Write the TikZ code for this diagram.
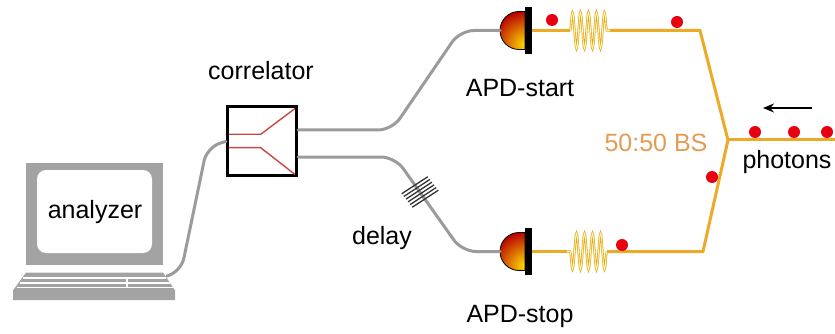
\documentclass[tikz,border=0pt]{standalone}
\usepackage{fontspec}
\setmainfont{Liberation Sans}
\usetikzlibrary{arrows.meta,calc,decorations.pathmorphing}

\definecolor{fibergray}{RGB}{155,155,155}
\definecolor{pcgray}{RGB}{163,163,163}
\definecolor{beamorange}{RGB}{236,170,38}
\definecolor{coilorange}{RGB}{226,164,40}
\definecolor{photonred}{RGB}{232,0,16}
\definecolor{bstext}{RGB}{228,155,82}
\definecolor{waveguide}{RGB}{205,70,70}

\tikzset{
  lbl/.style={inner sep=0pt, font=\fontsize{25}{30}\selectfont},
  fiber/.style={draw=fibergray, line width=3pt, rounded corners=14pt, line cap=round},
  beam/.style={draw=beamorange, line width=3pt, line join=miter},
  coilline/.style={draw=coilorange, line width=0.7pt, double=yellow!35!white,
    double distance=0.9pt, decorate,
    decoration={snake, amplitude=18pt, segment length=8pt}},
  photon/.style={fill=photonred},
  delayline/.style={draw=black!80, line width=1.3pt},
  apd/.pic={
    \draw[line width=0.8pt,
      path picture={\shade[inner color=yellow!75!orange, outer color=red!72!black]
        (0,14) circle (34);}]
      (0,-19) -- (-6,-19) arc[start angle=270, end angle=90, radius=19] -- (0,19) -- cycle;
    \fill[black] (0,-23.5) rectangle (6.5,23.5);
    \coordinate (-in) at (-25,0);
    \coordinate (-out) at (6.5,0);
  }
}

\begin{document}
\begin{tikzpicture}[x=1pt, y=-1pt]
\useasboundingbox (0,0) rectangle (835,334);

% ---------- analyzer: monitor and keyboard ----------
\fill[pcgray] (26,163) rectangle (163,265);
\fill[white, rounded corners=9pt] (37,170) rectangle (152,253);
\node[lbl] (analyzer) at (95,212) {analyzer};
\fill[pcgray] (26,272.5) -- (163,272.5) -- (175,290.5) -- (175,300)
  -- (13,300) -- (13,290.5) -- cycle;
\draw[white, line width=1.4pt] (23,278) -- (166,278)
  (19.5,283) -- (169.5,283) (16.5,287.7) -- (172.5,287.7)
  (127,278) -- (127,287.7);
\coordinate (kb) at (167,276);

% ---------- correlator ----------
\node[draw=black, line width=3pt, minimum width=69pt, minimum height=69pt,
  inner sep=0pt] (corr) at (262,141.4) {};
\node[lbl] (corrlabel) at (261,71) {correlator};
\draw[waveguide, line width=1.4pt]
  (228.5,134.3) -- (260.7,134.3) -- (295,108.5)
  (228.5,147.7) -- (260.7,147.7) -- (295,174.5);
\coordinate (cup) at (298,130);
\coordinate (clow) at (298,157);

% ---------- detectors ----------
\pic (start) at (525,30.5) {apd};
\pic (stop) at (525,251.5) {apd};
\node[lbl] (startlabel) at (520,88) {APD-start};
\node[lbl] (stoplabel) at (520,316) {APD-stop};

% ---------- fibers ----------
\draw[fiber] (kb) -- (181,272) -- (207,147) -- (corr.west);
\draw[fiber] (cup) -- (392,130) -- (460,30.5) -- (start-in);
\draw[fiber] (clow) -- (395,157) -- (462,251.5) -- (stop-in);

% delay loop on the lower fiber
\coordinate (dl) at (420,192);
\foreach \k in {-2.5,-1.5,...,2.5}
  \draw[delayline] ($(dl)+(\k*2.1,\k*2.7)+(-13,8.5)$) -- ($(dl)+(\k*2.1,\k*2.7)+(13,-8.5)$);
\node[lbl] (delaylabel) at (382,238) {delay};

% ---------- beam splitter and optical paths ----------
\coordinate (bs) at (728,140);
\coordinate (in) at (835,140);
\draw[beam] (start-out) -- (570,30.5);
\draw[coilline] (570,30.5) -- (610,30.5);
\draw[beam] (610,30.5) -- (700,30.5) -- (bs) -- (703,251.5) -- (607,251.5);
\draw[coilline] (607,251.5) -- (567,251.5);
\draw[beam] (567,251.5) -- (stop-out);
\draw[beam] (bs) -- (in);
\node[lbl, text=bstext] (bslabel) at (656,143) {50:50 BS};

% ---------- photons ----------
\foreach \p in {(552,20),(677,22),(622,245),(712,177),(755,132),(794,132),(827,132)}
  \fill[photon] \p circle (6);
\coordinate (arrtail) at (812,108);
\coordinate (arrhead) at (763,108);
\draw[line width=1.5pt, -{Stealth[length=11pt, width=9pt]}] (arrtail) -- (arrhead);
\node[lbl] (photonlabel) at (787,162) {photons};

\end{tikzpicture}
\end{document}
